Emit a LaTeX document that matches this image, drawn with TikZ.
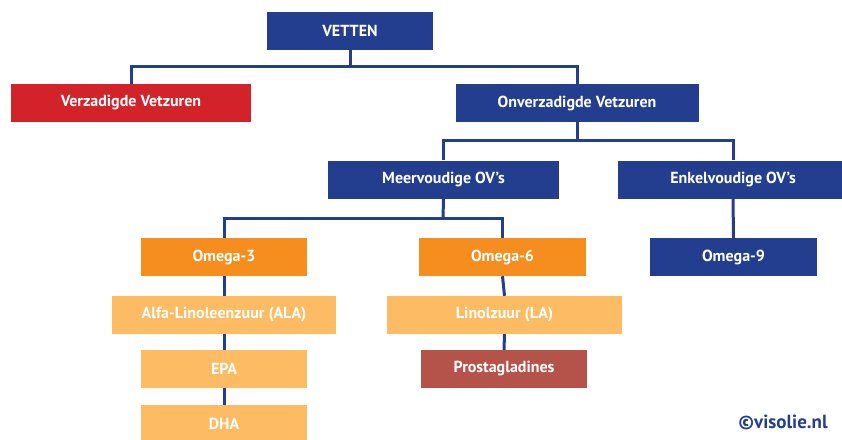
\documentclass[tikz,border=0pt]{standalone}
\usepackage{fontspec}
\setmainfont{PT Sans}
\definecolor{navy}{HTML}{233E8F}
\definecolor{redv}{HTML}{D2232A}
\definecolor{orangev}{HTML}{F68E1F}
\definecolor{lightor}{HTML}{FDBB63}
\definecolor{brownv}{HTML}{B5524A}
\tikzset{
  box/.style={rectangle, inner sep=0pt, minimum height=38pt, text=white,
    font=\fontsize{16}{19}\selectfont\bfseries, anchor=center},
  conn/.style={draw=navy, line width=3pt}
}
\begin{document}
\begin{tikzpicture}[x=1pt,y=-1pt]
\clip (0,0) rectangle (842,439);
\fill[white] (0,0) rectangle (842,439);
\coordinate (j1) at (350,66);
\coordinate (j2) at (577,140);
\coordinate (j3) at (443,218);
\node[box, fill=navy, minimum width=166pt] (vetten) at (350,31) {VETTEN};
\node[box, fill=redv, minimum width=240pt] (verz) at (131,103) {Verzadigde Vetzuren};
\node[box, fill=navy, minimum width=243pt] (onv) at (577,103) {Onverzadigde Vetzuren};
\node[box, fill=navy, minimum width=231pt] (meer) at (443.5,179.5) {Meervoudige OV’s};
\node[box, fill=navy, minimum width=230pt] (enk) at (733,179.5) {Enkelvoudige OV’s};
\node[box, fill=orangev, minimum width=166pt] (om3) at (224,257) {Omega-3};
\node[box, fill=orangev, minimum width=167pt] (om6) at (502.5,257) {Omega-6};
\node[box, fill=navy, minimum width=167pt] (om9) at (733.5,257) {Omega-9};
\node[box, fill=lightor, minimum width=224pt] (ala) at (224,315) {Alfa-Linoleenzuur (ALA)};
\node[box, fill=lightor, minimum width=235pt] (la) at (504.5,315) {Linolzuur (LA)};
\node[box, fill=lightor, minimum width=166pt] (epa) at (224,369) {EPA};
\node[box, fill=brownv, minimum width=166pt] (prost) at (504,369) {Prostagladines};
\node[box, fill=lightor, minimum width=166pt] (dha) at (224,424) {DHA};
\node[text=navy, font=\fontsize{19}{22}\selectfont\bfseries] (copy) at (783,422) {©visolie.nl};
\draw[conn] (vetten.south) -- (j1);
\draw[conn] (verz.north) |- (j1) -| (onv.north);
\draw[conn] (onv.south) -- (j2);
\draw[conn] (meer.north) |- (j2) -| (enk.north);
\draw[conn] (meer.south) -- (j3);
\draw[conn] (om3.north) |- (j3) -| (om6.north);
\draw[conn] (enk.south) -- (om9.north);
\draw[conn] (om3.south) -- (ala.north);
\draw[conn] (ala.south) -- (epa.north);
\draw[conn] (epa.south) -- (dha.north);
\draw[conn] (om6.south) -- (la.north);
\draw[conn] (la.south) -- (prost.north);
\end{tikzpicture}
\end{document}
